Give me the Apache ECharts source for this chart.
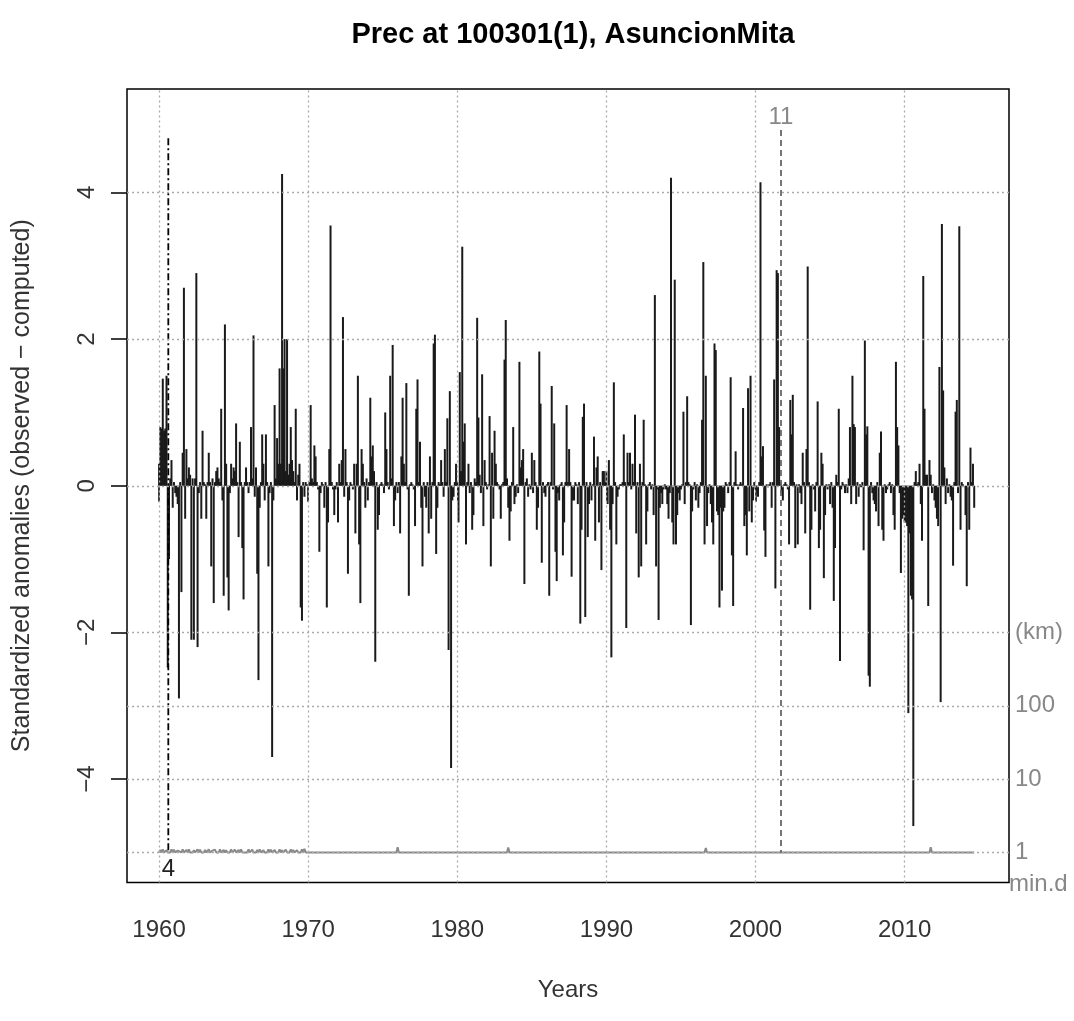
<!DOCTYPE html>
<html><head><meta charset="utf-8">
<script src="https://cdn.jsdelivr.net/npm/echarts@6/dist/echarts.min.js"></script>
<style>html,body{margin:0;padding:0;background:#fff}#c{width:1074px;height:1021px}</style>
</head><body><div id="c"></div>
<script>
// monthly standardized anomalies, starting Jan 1960
const startYear = 1960;
const anom1960s = [
 0.3, 0.8, 0.78, 1.46, 0.75, 0.78, 1.5, -2.48, -1.0, 0.1, 0.35, -0.3,
 0.05, -0.1, -0.15, -0.25, -2.9, 0.05, -1.45, 0.45, 2.7, -0.45, 0.5, 0.1,
 0.25, 0.15, -2.1, 0.1, -2.1, 0.1, 2.9, -2.2, -0.1, 0.05, -0.45, 0.75,
 0.05, 0.02, -0.45, 0.05, 0.45, 0.05, -1.1, 0.1, -1.6, 0.05, 0.2, 0.25,
 0.1, 0.05, 1.05, -0.2, -1.5, 2.2, 0.3, -1.25, -1.7, -0.1, 0.3, 0.1,
 0.25, 0.2, 0.85, 0.05, -0.7, 0.6, 0.05, -0.85, -1.55, 0.05, 0.25, 0.05,
 -0.1, 0.05, 0.8, 0.1, 2.05, -0.15, 0.25, -1.2, -2.65, -0.3, 0.05, 0.7,
 0.3, -0.2, 0.7, 0.05, -1.1, -0.1, 0.05, -3.7, -0.2, 1.1, 0.1, 0.65,
 0.3, 1.6, 0.3, 4.25, 1.6, 2.0, 0.2, 2.0, 0.15, 0.3, 0.8, 0.35,
 0.2, 0.05, 1.05, -0.2, 0.15, 0.3, -1.66, -1.84, 0.05, -0.15, 0.05, 0.02
];
const anom1970s = [
 0, 0.05, 1.1, 0.1, 0.05, 0.55, 0.4, 0.05, -0.05, -0.9, -0.1, 0.05,
 0.02, -0.3, 0.05, -1.66, -0.5, 0.5, 3.55, 0.05, -0.05, -0.4, -0.05, 0.05,
 -0.5, 0.3, 0.05, 0.35, 2.3, -0.15, 0.5, 0.05, -1.2, -0.2, 0.05, 0.02,
 -0.05, 0.3, -0.65, 0.3, 1.5, -0.8, -1.6, 0.5, 0.3, 0.05, -0.3, 0.1,
 -0.2, 0.05, 1.2, 0.4, 0.55, 0.2, -2.4, 0.05, -0.6, -0.4, 0.02, 0.05,
 0.02, -0.1, 1.0, 0.5, 0.05, -0.05, 1.5, 0.1, 1.92, -0.55, -0.2, 0.05,
 -0.1, 0.05, -0.65, 0.4, 1.2, 0.3, 0.05, 1.4, -0.05, -1.5, 0.02, 0.05,
 0.02, -0.05, -0.55, 1.05, 1.45, 0.05, 0.6, -0.3, -1.1, 0.05, -0.15, -0.3,
 0.05, -0.65, 0.4, -0.45, 0.05, 1.94, 2.06, -0.93, -0.3, 0.05, 0.02, 0.35,
 0.05, -0.15, 0.5, 0.05, 0.92, -2.24, 1.29, -3.85, -0.2, -0.15, 0.05, 0.3
];
const anom1980s = [
 0.05, -0.5, 1.55, 0.2, 3.26, 0.6, 0.85, -0.8, 0.05, 0.3, -0.1, 0.05,
 -0.6, -0.4, 0.1, 0.05, 2.29, 0.93, 0.15, -0.1, 1.52, -0.55, 0.35, 0.05,
 -0.05, 0.02, 0.95, -1.1, 0.45, -0.45, 0.75, 0.3, 0.05, 0.02, -0.05, -0.45,
 0.02, 0.05, 1.72, 2.26, 0.1, -0.3, -0.75, -0.35, 0.05, 0.8, -0.25, -0.15,
 0.02, -0.1, 1.69, 0.25, 0.35, 0.5, -1.34, 0.05, 0.1, -0.15, 0.02, -0.05,
 0.45, -0.1, 0.35, 0.05, -0.6, -0.3, 1.83, 1.12, -1.05, 0.05, -0.1, -0.15,
 0.02, 0.05, -1.5, 0.05, 1.36, -0.05, 0.85, -0.9, -1.3, -0.1, -0.2, 0.02,
 0.05, -0.95, -0.5, 0.05, 1.1, 0.05, 0.5, 0.05, -1.24, -0.2, -0.2, 0.05,
 0.02, -0.25, 0.05, -1.88, -0.6, 0.94, 1.12, -1.79, 0.05, -0.7, -0.25, 0.05,
 -0.2, 0.02, 0.67, -0.75, 0.25, 0.4, -0.5, 0.05, -1.15, 0.2, 0.2, 0.05
];
const anom1990s = [
 0.2, -0.25, 0.35, -0.6, -2.34, -0.25, 1.41, 0.05, -0.8, -0.15, -0.05, 0.02,
 0.02, 0.05, 0.7, 0.05, -1.94, 0.45, 0.05, 0.45, -0.05, 0.3, 0.05, 0.97,
 -0.65, 0.05, -1.25, 0.3, -1.1, 0.05, 0.9, 0.02, -0.8, -0.35, 0.02, 0.05,
 -0.05, 0.02, -0.4, 2.6, -1.1, -0.05, -1.83, -0.3, -0.1, -0.25, -0.05, 0.02,
 -0.05, -0.25, -0.45, -0.1, 4.2, -0.5, -0.8, 2.81, -0.8, -0.4, -0.1, -0.2,
 -0.05, 0.02, 1.01, -0.25, 0.05, 1.22, 0.05, 0.02, -1.9, -0.35, -0.05, 0.05,
 -0.2, 0.02, -0.3, -0.1, 0.05, 0.9, 3.05, -0.8, 1.5, -0.55, -0.1, 0.02,
 -0.25, -0.5, -0.8, 1.94, 1.85, -0.35, -0.4, -1.66, -0.3, -1.43, -0.35, -0.3,
 0.05, 0.02, -0.1, 0.05, 1.48, -0.95, -1.64, 0.05, 0.47, 0.02, -0.05, 0.02,
 0.05, 0.02, 1.06, -0.55, -0.4, -0.95, 1.33, -0.35, 1.5, -0.5, -0.2, 0.05
];
const anom2000s = [
 -0.05, -0.1, -0.15, 0.05, 4.14, 0.4, 0.54, -0.61, -0.97, 0.02, -0.02, 0.02,
 0.05, -0.3, 0.05, 1.45, -1.4, 2.94, 2.9, 0.8, 0.05, -0.1, -0.2, 0.02,
 0.05, 0.02, -0.05, -0.8, 1.17, 0.7, 1.24, 0.05, -0.85, 0.02, -0.8, 0.02,
 -0.1, -0.25, 0.45, 0.05, -0.65, 0.5, 2.99, 0.05, -1.69, -0.6, 0.02, -0.05,
 -0.35, 0.05, 1.15, -0.85, -0.6, 0.45, 0.3, -1.26, -0.4, 0.02, -0.05, 0.02,
 -0.25, 0.05, -0.3, -1.57, -0.85, 0.15, 0.05, 1.05, -2.39, -0.05, 0.05, 0.02,
 -0.1, 0.02, -0.1, 0.1, 0.8, -0.25, 1.5, 0.84, 0.8, -0.25, 0.05, -0.15,
 0.02, -0.02, 0.05, -0.88, 1.98, 0.7, 0.81, -2.59, -2.74, 0.05, -0.1, -0.2,
 -0.25, -0.35, 0.05, -0.55, 0.45, 0.74, -0.6, -0.75, 0.02, -0.1, -0.05, 0.02,
 0.05, -0.1, 0.02, -0.4, -0.6, 1.69, 0.8, 0.55, -0.1, -1.19, -0.45, -0.4
];
const anom2010s = [
 -0.5, -0.5, -0.55, -3.1, -0.65, -1.5, -1.55, -4.64, 0.05, 0.2, 0.02, 0.05,
 0.3, -0.25, -0.75, 2.86, 1.05, 0.15, 0.15, -1.64, 0.35, 0.15, -0.1, 0.02,
 -0.2, -0.3, -0.45, -0.55, 1.62, -2.95, 3.57, 1.3, 0.25, -0.25, 0.1, -0.1,
 0.02, -0.15, -0.2, -1.09, 0.05, 1.01, 1.17, -0.1, 3.54, -0.6, 0.05, 0.02,
 0.0, -0.4, -1.37, 0.05, -0.6, 0.52, 0.05, 0.3, -0.3
];

// axis ticks / labels
const yearTicks = [1960, 1970, 1980, 1990, 2000, 2010];
const yTicks = [-4, -2, 0, 2, 4];
const yGridLines = [4, 2, 0, -2, -3, -4, -5];
const kmTickPos = [-2, -3, -4, -5];
const kmTickLabels = ['(km)', '100', '10', '1'];

// break (inhomogeneity) markers
const breakYears = [1960.62, 2001.71];
const breakTops = [4.74, 4.85];
const breakLabels = ['4', '11'];

// minimum distance to neighbours (km): months where it departs from 1 km
const minDistBaseKm = 1;
const minDistMonths = [1,3,6,10,12,15,19,22,24,28,31,33,37,40,43,45,49,52,54,58,61,64,66,70,72,75,79,81,84,88,90,93,97,99,102,106,108,111,115,117,192,281,440,621];
const minDistKm = [1.08,1.10,1.07,1.10,1.09,1.06,1.10,1.08,1.10,1.07,1.10,1.09,1.08,1.10,1.06,1.09,1.10,1.08,1.07,1.10,1.09,1.08,1.10,1.06,1.10,1.09,1.08,1.10,1.07,1.10,1.09,1.08,1.10,1.07,1.09,1.10,1.08,1.07,1.10,1.12,1.18,1.17,1.15,1.18];

const anomalies = [].concat(anom1960s, anom1970s, anom1980s, anom1990s, anom2000s, anom2010s);
const monthYear = i => startYear + i / 12;
const barData = anomalies.map((v, i) => [monthYear(i), v]);
const kmToY = km => -5 + Math.log10(km);
const lastMonth = anomalies.length - 1;
const minDistLine = [[monthYear(0), kmToY(minDistBaseKm)]];
minDistMonths.forEach((m, k) => {
  minDistLine.push([monthYear(m - 1), kmToY(minDistBaseKm)]);
  minDistLine.push([monthYear(m), kmToY(minDistKm[k])]);
  minDistLine.push([monthYear(m + 1), kmToY(minDistBaseKm)]);
});
minDistLine.push([monthYear(lastMonth), kmToY(minDistBaseKm)]);

const FONT = '"Liberation Sans", Arial, Helvetica, sans-serif';
const fmtMinus = v => (v < 0 ? '\u2212' + Math.abs(v) : String(v));

const chart = echarts.init(document.getElementById('c'), null, {renderer: 'canvas'});
const option = {
  animation: false,
  backgroundColor: '#fff',
  textStyle: {fontFamily: FONT},
  title: {
    text: 'Prec at 100301(1), AsuncionMita',
    left: 568, top: 15, textAlign: 'center',
    textStyle: {fontSize: 29, fontWeight: 'bold', color: '#000', fontFamily: FONT}
  },
  grid: {left: 127, right: 65, top: 89, bottom: 138.5, show: true, borderColor: '#000', borderWidth: 1.5},
  xAxis: {
    type: 'value', min: 1957.85, max: 2017.0,
    name: 'Years', nameLocation: 'middle', nameGap: 96,
    nameTextStyle: {fontSize: 24, color: '#333', fontFamily: FONT},
    axisLine: {show: false}, splitLine: {show: false},
    axisTick: {show: true, customValues: yearTicks, length: 16, lineStyle: {color: '#000', width: 1.5}},
    axisLabel: {customValues: yearTicks, fontSize: 24, color: '#333', margin: 36, fontFamily: FONT,
      formatter: v => String(Math.round(v))}
  },
  yAxis: [{
    type: 'value', min: -5.41, max: 5.41,
    name: 'Standardized anomalies (observed \u2212 computed)', nameLocation: 'middle', nameGap: 92, nameRotate: 90,
    nameTextStyle: {fontSize: 25, color: '#333', fontFamily: FONT},
    axisLine: {show: false}, splitLine: {show: false},
    axisTick: {show: true, customValues: yTicks, length: 16, lineStyle: {color: '#000', width: 1.5}},
    axisLabel: {customValues: yTicks, rotate: 90, fontSize: 24, color: '#333', margin: 28, formatter: fmtMinus, fontFamily: FONT}
  }, {
    type: 'value', position: 'right', min: -5.41, max: 5.41,
    axisLine: {show: false}, axisTick: {show: false}, splitLine: {show: false},
    axisLabel: {customValues: kmTickPos, fontSize: 24, color: '#888', margin: 6, fontFamily: FONT,
      formatter: v => kmTickLabels[kmTickPos.indexOf(Math.round(v))]},
    name: 'min.d', nameLocation: 'start', nameGap: 2,
    nameTextStyle: {fontSize: 24, color: '#888', align: 'left', verticalAlign: 'middle', fontFamily: FONT}
  }],
  series: [
    {
      type: 'line', data: [], z: 1, silent: true,
      markLine: {
        silent: true, symbol: ['none', 'none'], label: {show: false},
        lineStyle: {type: [2, 3], color: '#aaa', width: 1.3},
        emphasis: {disabled: true},
        data: yearTicks.map(x => ({xAxis: x})).concat(yGridLines.map(y => ({yAxis: y})))
      }
    },
    {
      type: 'bar', data: barData, barWidth: 2, z: 2, silent: true,
      itemStyle: {color: '#1a1a1a'}
    },
    {
      type: 'line', data: minDistLine, symbol: 'none', z: 3, silent: true,
      lineStyle: {color: '#8a8a8a', width: 2}
    },
    {
      type: 'line', z: 4, silent: true, symbol: 'circle', symbolSize: 1, showSymbol: true,
      itemStyle: {color: 'rgba(0,0,0,0)'},
      lineStyle: {color: '#000', width: 1.8, type: [7, 3, 2, 3]},
      data: [
        {value: [breakYears[0], breakTops[0]]},
        {value: [breakYears[0], -5], label: {show: true, formatter: breakLabels[0], position: 'bottom', distance: 4, fontSize: 24, color: '#222', fontFamily: FONT}}
      ]
    },
    {
      type: 'line', z: 4, silent: true, symbol: 'circle', symbolSize: 1, showSymbol: true,
      itemStyle: {color: 'rgba(0,0,0,0)'},
      lineStyle: {color: '#666', width: 1.8, type: [6, 4]},
      data: [
        {value: [breakYears[1], breakTops[1]], label: {show: true, formatter: breakLabels[1], position: 'top', distance: 0, fontSize: 24, color: '#888', fontFamily: FONT}},
        {value: [breakYears[1], -5]}
      ]
    }
  ]
};
chart.setOption(option);
</script>
</body></html>
